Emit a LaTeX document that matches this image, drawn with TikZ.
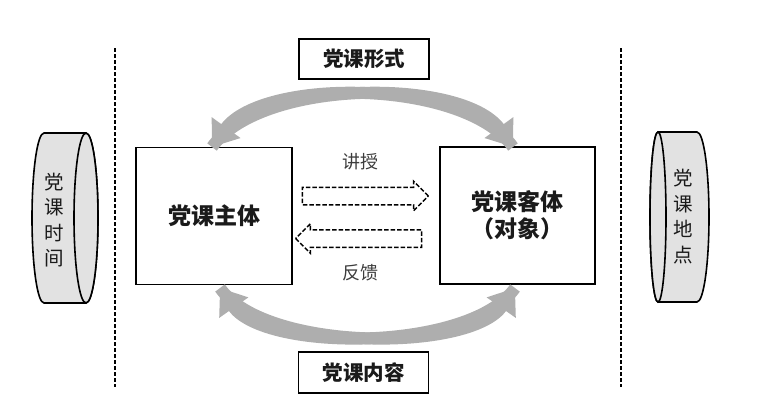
\documentclass[tikz,border=0pt]{standalone}
\usepackage{fontspec}
\setmainfont{Noto Sans CJK SC}
\usetikzlibrary{arrows.meta,shapes.arrows}
\definecolor{arcgray}{HTML}{AEAEAE}
\definecolor{cylgray}{HTML}{E2E2E2}
\definecolor{txtdark}{HTML}{1A1A1A}
\tikzset{
  mainbox/.style={draw=black, line width=1.6pt, minimum width=156pt, minimum height=137pt, inner sep=0pt, font=\fontsize{23}{27}\selectfont\bfseries, text=txtdark, align=center},
  labelbox/.style={draw=black, line width=1.6pt, minimum width=130pt, minimum height=40pt, inner sep=0pt, font=\fontsize{20.5}{24}\selectfont\bfseries, text=txtdark},
  bigarc/.style={draw=arcgray, line width=12pt, -{Triangle[length=24pt,width=34pt]}},
  dasharrow/.style={single arrow, draw=black, dash pattern=on 4.5pt off 2pt, line width=1.5pt, minimum width=28pt, single arrow head extend=6pt, inner sep=8pt, minimum height=126pt},
  smalltext/.style={font=\fontsize{18}{20}\selectfont, text=txtdark!85},
  cyltext/.style={font=\fontsize{19.5}{25.5}\selectfont, text=txtdark, align=center, inner sep=0pt},
  cylbody/.style={fill=cylgray, draw=black, line width=1.6pt},
  divider/.style={draw=black, line width=2pt, dash pattern=on 4pt off 2pt}
}
\begin{document}
\begin{tikzpicture}[x=1pt,y=1pt]
\useasboundingbox (0,0) rectangle (762,400);
% dividers
\coordinate (d1a) at (115,352); \coordinate (d1b) at (115,13);
\coordinate (d2a) at (621,352); \coordinate (d2b) at (621,13);
\draw[divider] (d1a) -- (d1b);
\draw[divider] (d2a) -- (d2b);
% main boxes
\node[mainbox] (L) at (214,184) {党课主体};
\node[mainbox, minimum width=155pt] (R) at (517.5,184.5) {党课客体\\（对象）};
% label boxes
\node[labelbox] (F) at (364,341) {党课形式};
\node[labelbox, minimum height=41pt] (C) at (363.5,27.5) {党课内容};
% big arcs
\coordinate (ta) at (212,253); \coordinate (tb) at (513,253);
\coordinate (ba) at (220,112); \coordinate (bb) at (515,112);
\draw[bigarc] (ta) .. controls (262,322) and (463,322) .. (tb);
\draw[bigarc] (tb) .. controls (463,322) and (262,322) .. (ta);
\draw[bigarc] (ba) .. controls (265,48) and (470,48) .. (bb);
\draw[bigarc] (bb) .. controls (470,48) and (265,48) .. (ba);
% dashed arrows
\node[dasharrow] (A1) at (361,204) {};
\node[dasharrow, shape border rotate=180] (A2) at (363,161.5) {};
\node[smalltext] (t1) at (360,238) {讲授};
\node[smalltext] (t2) at (360,127) {反馈};
% left cylinder
\path[cylbody] (44,267) -- (86,267) arc[start angle=90,end angle=-90,x radius=12,y radius=85] -- (44,97) arc[start angle=270,end angle=90,x radius=12,y radius=85] -- cycle;
\path[cylbody] (86,182) ellipse[x radius=12, y radius=85];
\node[cyltext] (LT) at (54,180) {党\\课\\时\\间};
% right cylinder
\path[cylbody] (658,268) -- (697,268) arc[start angle=90,end angle=-90,x radius=12,y radius=85] -- (658,98) arc[start angle=270,end angle=90,x radius=8,y radius=85] -- cycle;
\path[cylbody] (658,183) ellipse[x radius=8, y radius=85];
\node[cyltext] (RT) at (683,183.5) {党\\课\\地\\点};
\end{tikzpicture}
\end{document}
